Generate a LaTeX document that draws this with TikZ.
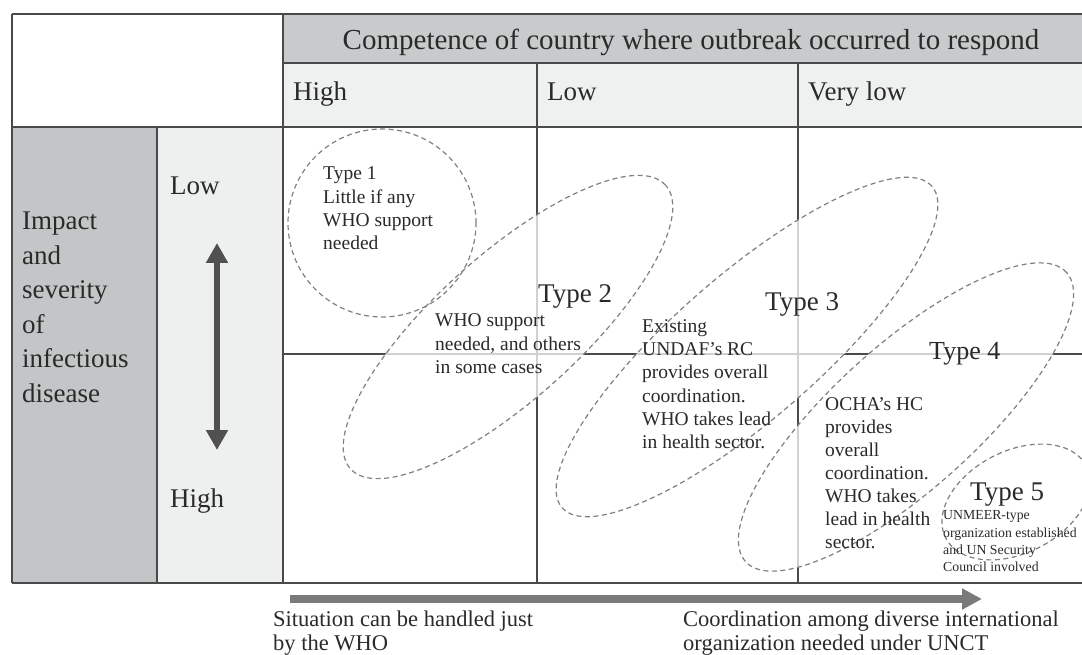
\documentclass[tikz,border=0pt]{standalone}
\usepackage{fontspec}
\setmainfont{Liberation Serif}
\usetikzlibrary{arrows.meta}
\definecolor{hdrC}{HTML}{C8CBCB}
\definecolor{rowC}{HTML}{EFF1F1}
\definecolor{leftC}{HTML}{C3C6C6}
\definecolor{lightC}{HTML}{EEF0F0}
\definecolor{lineC}{HTML}{4A4A4A}
\definecolor{dashC}{HTML}{808080}
\definecolor{textC}{HTML}{2A2A2A}
\definecolor{harrC}{HTML}{7A7A7A}
\definecolor{varrC}{HTML}{505050}
\begin{document}
\begin{tikzpicture}[x=1pt,y=-1pt,
  gridline/.style={draw=lineC, line width=1.8pt},
  ring/.style={draw=dashC, line width=1.2pt, dash pattern=on 5pt off 3.5pt},
  veil/.style={fill=white, fill opacity=0.75},
  txt/.style={inner sep=0pt, anchor=north west, align=left, text=textC},
  big/.style={txt, anchor=base west, font=\fontsize{27pt}{33pt}\selectfont},
  small/.style={txt, font=\fontsize{19.5pt}{23.3pt}\selectfont},
  tiny/.style={txt, font=\fontsize{13.8pt}{17.3pt}\selectfont},
  bottomtxt/.style={txt, font=\fontsize{22.5pt}{24.5pt}\selectfont},
  harrow/.style={draw=harrC, line width=8pt, -{Triangle[length=20pt,width=20pt]}},
  varrow/.style={draw=varrC, line width=6.5pt, {Triangle[length=20pt,width=21pt]}-{Triangle[length=20pt,width=21pt]}}
]
\useasboundingbox (0,0) rectangle (1082,655);
% backgrounds
\fill[hdrC] (283,14) rectangle (1082,63);
\fill[rowC] (283,63) rectangle (1082,127);
\fill[leftC] (12,127) rectangle (157,583);
\fill[lightC] (157,127) rectangle (283,583);
% grid
\draw[gridline] (12,14) -- (1082,14);
\draw[gridline] (283,63) -- (1082,63);
\draw[gridline] (12,127) -- (1082,127);
\draw[gridline] (12,583) -- (1082,583);
\draw[gridline] (283,354) -- (1082,354);
\draw[gridline] (12,14) -- (12,583);
\draw[gridline] (157,127) -- (157,583);
\draw[gridline] (283,14) -- (283,583);
\draw[gridline] (537,63) -- (537,583);
\draw[gridline] (798,63) -- (798,583);
% veils
\path[veil] (382,223) circle (94pt);
\path[veil, rotate around={42:(508,327)}] (508,327) ellipse (212pt and 72pt);
\path[veil, rotate around={41:(747,347)}] (747,347) ellipse (245pt and 72pt);
\path[veil, rotate around={42:(906,417)}] (906,417) ellipse (216pt and 72pt);
\path[veil, rotate around={27:(1016,502)}] (1016,502) ellipse (79pt and 51pt);
% outlines
\draw[ring] (382,223) circle (94pt);
\draw[ring, rotate around={42:(508,327)}] (508,327) ellipse (212pt and 72pt);
\draw[ring, rotate around={41:(747,347)}] (747,347) ellipse (245pt and 72pt);
\draw[ring, rotate around={42:(906,417)}] (906,417) ellipse (216pt and 72pt);
\draw[ring, rotate around={27:(1016,502)}] (1016,502) ellipse (79pt and 51pt);
% header texts
\node[big, anchor=base, font=\fontsize{29pt}{33pt}\selectfont] (hdr) at (691,50) {Competence of country where outbreak occurred to respond};
\node[big] (colhigh) at (293,101) {High};
\node[big] (collow) at (547,101) {Low};
\node[big] (colvlow) at (808,101) {Very low};
% left texts
\node[txt, font=\fontsize{27pt}{34.6pt}\selectfont] (impact) at (22,211.6) {Impact\\and\\severity\\of\\infectious\\disease};
\node[big] (rowlow) at (170,195) {Low};
\node[big] (rowhigh) at (170,507) {High};
% arrows
\coordinate (va1) at (217,243);
\coordinate (va2) at (217,450);
\draw[varrow] (va1) -- (va2);
\coordinate (ha1) at (290,599);
\coordinate (ha2) at (982,599);
\draw[harrow] (ha1) -- (ha2);
% types
\node[small] (t1) at (323,166.7) {Type 1\\Little if any\\WHO support\\needed};
\node[big] (t2title) at (538,302) {Type 2};
\node[small] (t2) at (435,313.7) {WHO support\\needed, and others\\in some cases};
\node[big] (t3title) at (765,310) {Type 3};
\node[small] (t3) at (642,319) {Existing\\UNDAF's RC\\provides overall\\coordination.\\WHO takes lead\\in health sector.};
\node[big, font=\fontsize{26pt}{30pt}\selectfont] (t4title) at (929,359) {Type 4};
\node[small, font=\fontsize{19.5pt}{23pt}\selectfont] (t4) at (825,397.7) {OCHA's HC\\provides\\overall\\coordination.\\WHO takes\\lead in health\\sector.};
\node[big] (t5title) at (970,500) {Type 5};
\node[tiny] (t5) at (943,510.5) {UNMEER-type\\organization established\\and UN Security\\Council involved};
% bottom
\node[bottomtxt] (left) at (273,610.2) {Situation can be handled just\\by the WHO};
\node[bottomtxt] (right) at (683,610.2) {Coordination among diverse international\\organization needed under UNCT};
\end{tikzpicture}
\end{document}
